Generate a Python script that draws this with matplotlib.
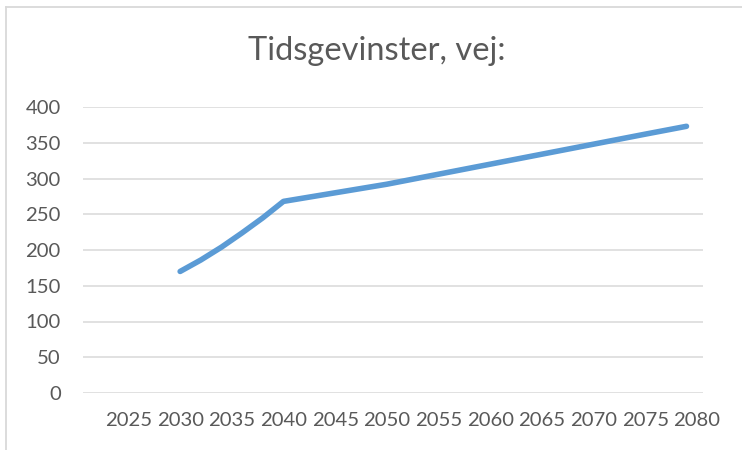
import matplotlib
matplotlib.use("Agg")
import matplotlib.pyplot as plt
from matplotlib.lines import Line2D

# data
years = [2030, 2032, 2034, 2036, 2038, 2040, 2045, 2050, 2055, 2060, 2065, 2070, 2075, 2079]
values = [170, 186, 204, 224, 245, 268, 280, 292, 306, 320, 334, 348, 362, 373]
xticks = [2025, 2030, 2035, 2040, 2045, 2050, 2055, 2060, 2065, 2070, 2075, 2080]
yticks = [0, 50, 100, 150, 200, 250, 300, 350, 400]
title = "Tidsgevinster, vej:"

plt.rcParams['font.family'] = ['Lato', 'DejaVu Sans']
TXT = '#595959'

fig = plt.figure(figsize=(7.42, 4.5), dpi=100)
ax = fig.add_axes([83 / 742, 1 - 393 / 450, 620 / 742, 286 / 450])

ax.plot(years, values, color='#5B9BD5', lw=4, solid_capstyle='round',
        solid_joinstyle='round', zorder=3)

ax.set_xlim(2020.6, 2080.6)
ax.set_ylim(0, 400)
ax.set_xticks(xticks)
ax.set_yticks(yticks)
ax.set_xticklabels([str(x) for x in xticks])
ax.grid(axis='y', color='#D9D9D9', lw=1.1)
ax.set_axisbelow(True)
for s in ax.spines.values():
    s.set_visible(False)
ax.tick_params(length=0, labelsize=14.6, labelcolor=TXT)
ax.tick_params(axis='y', pad=16)
ax.tick_params(axis='x', pad=14)

fig.text(377 / 742, 1 - 51 / 450, title, ha='center', va='center',
         fontsize=23.5, color=TXT)

# chart area border (only top and left visible in the crop)
fig.add_artist(Line2D([6 / 742, 6 / 742], [0, 1 - 7 / 450],
                      transform=fig.transFigure, color='#D9D9D9', lw=1.3))
fig.add_artist(Line2D([6 / 742, 1], [1 - 7 / 450, 1 - 7 / 450],
                      transform=fig.transFigure, color='#D9D9D9', lw=1.3))

fig.savefig('out.png', dpi=100)
